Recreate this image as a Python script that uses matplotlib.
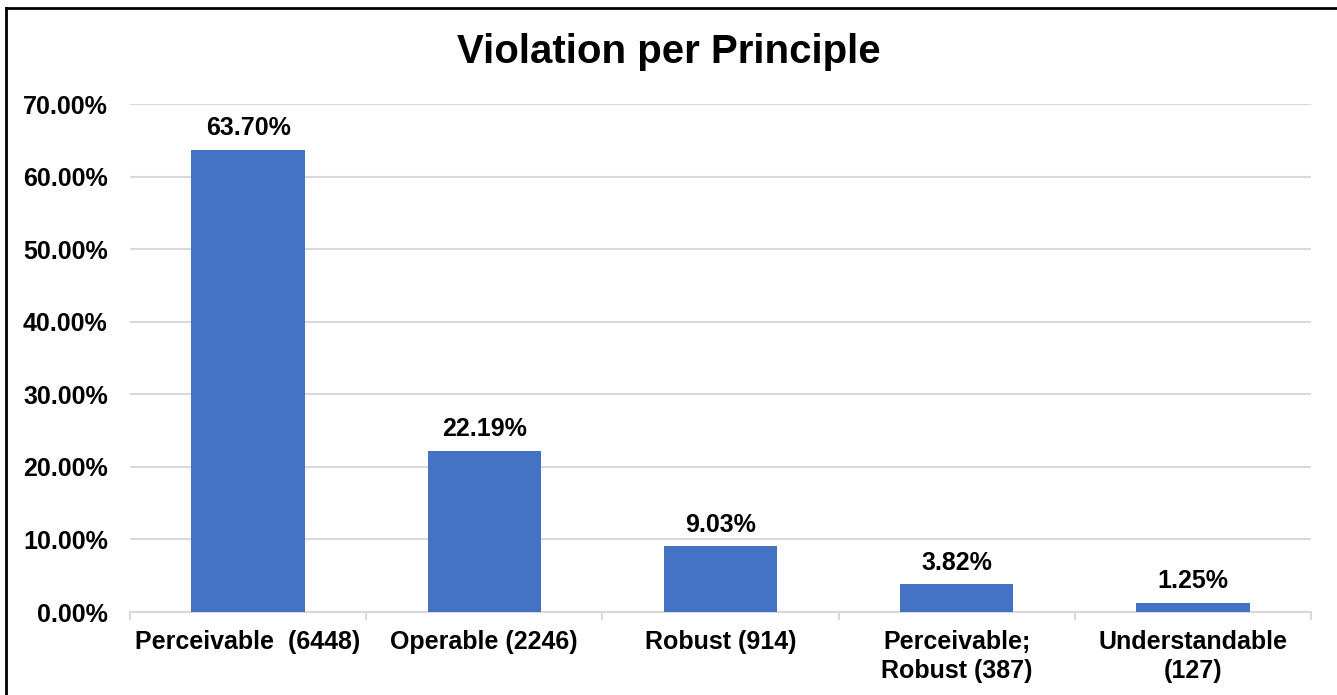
import matplotlib
matplotlib.use("Agg")
import matplotlib.pyplot as plt
import numpy as np
from matplotlib.lines import Line2D

plt.rcParams['font.family'] = ['Liberation Sans', 'DejaVu Sans']
plt.rcParams['font.weight'] = 'bold'

categories = ['Perceivable  (6448)', 'Operable (2246)', 'Robust (914)',
              'Perceivable;\nRobust (387)', 'Understandable\n(127)']
shares = [63.70, 22.19, 9.03, 3.82, 1.25]
yticks = [0, 10, 20, 30, 40, 50, 60, 70]

bar_col = '#4472C4'
grid_col = '#D9D9D9'

fig = plt.figure(figsize=(13.37, 6.95), dpi=100)
ax = fig.add_axes([130/1337, (695-612)/695, (1311-130)/1337, (612-104)/695])

x = np.arange(len(categories))
bars = ax.bar(x, shares, width=0.48, color=bar_col, zorder=3)

for b, v in zip(bars, shares):
    ax.annotate('%.2f%%' % v, (b.get_x() + b.get_width()/2, v),
                xytext=(0, 7), textcoords='offset points',
                ha='center', va='bottom', fontsize=18, fontweight='bold')

ax.set_xlim(-0.5, len(categories) - 0.5)
ax.set_ylim(0, 70)
ax.set_yticks(yticks)
ax.set_yticklabels(['%.2f%%' % t for t in yticks])
ax.yaxis.grid(True, color=grid_col, linewidth=1.5, zorder=0)
ax.set_axisbelow(True)

ax.set_xticks(x)
ax.set_xticklabels(categories, linespacing=1.25)
ax.set_xticks(np.arange(len(categories) + 1) - 0.5, minor=True)
ax.tick_params(axis='x', which='major', length=0, pad=13, labelsize=18)
ax.tick_params(axis='x', which='minor', length=6, color=grid_col, width=1.5)
ax.tick_params(axis='y', length=0, pad=16, labelsize=18)

for s in ['top', 'right', 'left']:
    ax.spines[s].set_visible(False)
ax.spines['bottom'].set_color(grid_col)
ax.spines['bottom'].set_linewidth(1.5)

fig.text(0.5, (695-52)/695, 'Violation per Principle', ha='center', va='center',
         fontsize=29, fontweight='bold')

# outer border (top and left visible only)
fig.add_artist(Line2D([6/1337, 6/1337], [0, (695-8)/695], color='black',
                      linewidth=2, transform=fig.transFigure))
fig.add_artist(Line2D([6/1337, 1], [(695-8)/695, (695-8)/695], color='black',
                      linewidth=2, transform=fig.transFigure))

fig.savefig('out.png', dpi=100)
